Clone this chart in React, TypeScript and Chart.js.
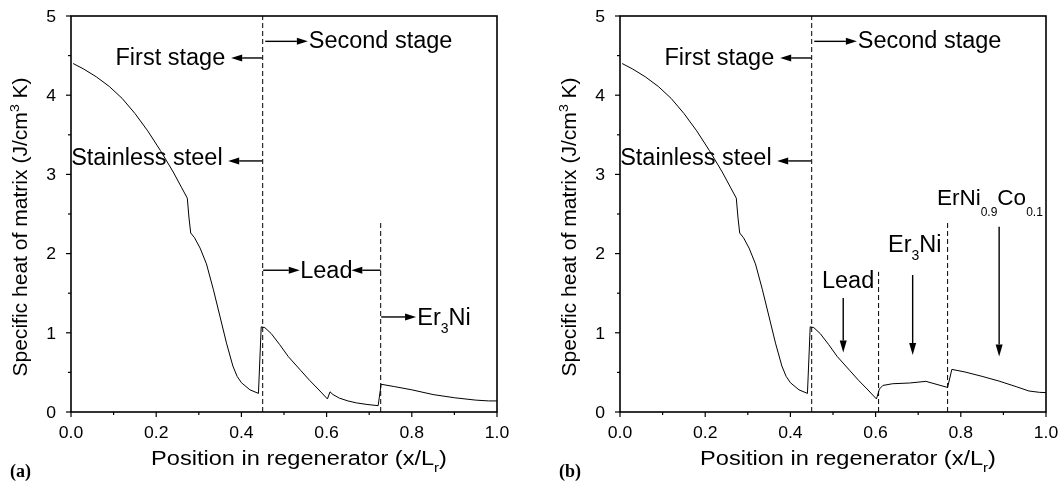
import React, { useEffect, useRef } from 'react';
import { Chart, registerables } from 'chart.js';

Chart.register(...registerables);

// ---------- data ----------
const xMajorTicks = [0, 0.2, 0.4, 0.6, 0.8, 1.0];
const xTickLabels = ['0.0', '0.2', '0.4', '0.6', '0.8', '1.0'];
const yMajorTicks = [0, 1, 2, 3, 4, 5];
const yTickLabels = ['0', '1', '2', '3', '4', '5'];

// shared part of the curve (stainless steel + start of lead)
const commonX = [0.005, 0.03, 0.06, 0.09, 0.12, 0.15, 0.18, 0.21, 0.24, 0.26, 0.273, 0.277, 0.281, 0.29, 0.303, 0.318, 0.334, 0.35, 0.365, 0.38, 0.39, 0.40, 0.42, 0.44, 0.4465, 0.455, 0.47, 0.49, 0.51, 0.54, 0.56, 0.58, 0.602];
const commonY = [4.40, 4.33, 4.23, 4.11, 3.96, 3.77, 3.55, 3.30, 3.03, 2.83, 2.70, 2.45, 2.26, 2.20, 2.07, 1.87, 1.55, 1.20, 0.87, 0.58, 0.45, 0.37, 0.28, 0.235, 1.075, 1.065, 0.99, 0.85, 0.70, 0.52, 0.40, 0.29, 0.165];

// panel (a): lead then Er3Ni
const tailAX = [0.608, 0.615, 0.63, 0.65, 0.67, 0.695, 0.721, 0.728, 0.76, 0.80, 0.85, 0.90, 0.95, 0.98, 1.0];
const tailAY = [0.255, 0.22, 0.175, 0.14, 0.115, 0.095, 0.08, 0.35, 0.32, 0.28, 0.22, 0.18, 0.15, 0.14, 0.14];

// panel (b): lead, Er3Ni, ErNi0.9Co0.1
const tailBX = [0.609, 0.617, 0.64, 0.68, 0.718, 0.769, 0.779, 0.81, 0.85, 0.89, 0.93, 0.96, 0.985, 1.0];
const tailBY = [0.29, 0.335, 0.357, 0.366, 0.387, 0.31, 0.538, 0.505, 0.45, 0.39, 0.32, 0.265, 0.248, 0.245];

// boundaries between materials (x position, top of the dashed line)
const boundaryAX = [0.45, 0.727];
const boundaryATop = [5, 2.42];
const boundaryBX = [0.45, 0.607, 0.769];
const boundaryBTop = [5, 1.77, 2.42];

// ---------- drawing helpers ----------
const SANS = '"Liberation Sans", Arial, Helvetica, sans-serif';
const SERIF = '"Liberation Serif", "Times New Roman", serif';

type Seg = { t: string; size: number; dy?: number; dx?: number; bold?: boolean; serif?: boolean };

function segFont(s: Seg) {
  return `${s.bold ? 'bold ' : ''}${s.size}px ${s.serif ? SERIF : SANS}`;
}

function drawRich(ctx: CanvasRenderingContext2D, segs: Seg[], x: number, y: number, align: 'left' | 'right' | 'center', sx = 1) {
  const widths = segs.map((s) => {
    ctx.font = segFont(s);
    return ctx.measureText(s.t).width + (s.dx || 0);
  });
  const total = widths.reduce((a, b) => a + b, 0);
  let cx = align === 'left' ? 0 : align === 'right' ? -total : -total / 2;
  ctx.save();
  ctx.translate(x, y);
  ctx.scale(sx, 1);
  ctx.textAlign = 'left';
  ctx.textBaseline = 'alphabetic';
  ctx.fillStyle = '#000';
  segs.forEach((s, i) => {
    ctx.font = segFont(s);
    ctx.fillText(s.t, cx + (s.dx || 0), s.dy || 0);
    cx += widths[i];
  });
  ctx.restore();
}

function arrow(ctx: CanvasRenderingContext2D, x1: number, y1: number, x2: number, y2: number, head = 11, half = 3.5) {
  const ang = Math.atan2(y2 - y1, x2 - x1);
  const bx = x2 - head * Math.cos(ang);
  const by = y2 - head * Math.sin(ang);
  ctx.beginPath();
  ctx.moveTo(x1, y1);
  ctx.lineTo(bx, by);
  ctx.stroke();
  ctx.beginPath();
  ctx.moveTo(x2, y2);
  ctx.lineTo(bx - half * Math.sin(ang), by + half * Math.cos(ang));
  ctx.lineTo(bx + half * Math.sin(ang), by - half * Math.cos(ang));
  ctx.closePath();
  ctx.fill();
}

const ANN = 23.5;

function makeOverlay(panel: 'a' | 'b') {
  return {
    id: 'overlay-' + panel,
    afterDatasetsDraw(chart: any) {
      const { ctx, chartArea: ca, scales } = chart;
      const xs = scales.x;
      const ys = scales.y;
      const px = (v: number) => xs.getPixelForValue(v);
      const py = (v: number) => ys.getPixelForValue(v);
      ctx.save();
      ctx.strokeStyle = '#000';
      ctx.fillStyle = '#000';

      // frame
      ctx.lineWidth = 1.6;
      ctx.strokeRect(ca.left, ca.top, ca.right - ca.left, ca.bottom - ca.top);

      // tick marks + labels
      ctx.lineWidth = 1.2;
      xs.ticks.forEach((t: any) => {
        const idx = xMajorTicks.findIndex((v) => Math.abs(v - t.value) < 1e-6);
        const X = px(t.value);
        const len = idx >= 0 ? 5 : 3;
        ctx.beginPath();
        ctx.moveTo(X, ca.bottom);
        ctx.lineTo(X, ca.bottom + len);
        ctx.stroke();
        if (idx >= 0) drawRich(ctx, [{ t: xTickLabels[idx], size: 16 }], X, ca.bottom + 25.5, 'center', 1.1);
      });
      ys.ticks.forEach((t: any) => {
        const idx = yMajorTicks.findIndex((v) => Math.abs(v - t.value) < 1e-6);
        const Y = py(t.value);
        const len = idx >= 0 ? 5 : 3;
        ctx.beginPath();
        ctx.moveTo(ca.left, Y);
        ctx.lineTo(ca.left - len, Y);
        ctx.stroke();
        if (idx >= 0) drawRich(ctx, [{ t: yTickLabels[idx], size: 16 }], ca.left - 15, Y + 5.7, 'right', 1.1);
      });

      // axis titles
      const cx = (ca.left + ca.right) / 2;
      drawRich(
        ctx,
        [
          { t: 'Position in regenerator (x/L', size: 20.5 },
          { t: 'r', size: 13, dy: 7 },
          { t: ')', size: 20.5 },
        ],
        cx + 15,
        465,
        'center',
        1.15
      );
      ctx.save();
      ctx.translate(ca.left - 44, 227);
      ctx.rotate(-Math.PI / 2);
      drawRich(
        ctx,
        [
          { t: 'Specific heat of matrix (J/cm', size: 19.5 },
          { t: '3', size: 13, dy: -8 },
          { t: ' K)', size: 19.5 },
        ],
        0,
        0,
        'center',
        1.08
      );
      ctx.restore();

      // panel label
      drawRich(ctx, [{ t: panel === 'a' ? '(a)' : '(b)', size: 18, bold: true, serif: true }], ca.left - 61, 477, 'left');

      // common annotations
      ctx.lineWidth = 1.4;
      arrow(ctx, px(0.456), py(4.68), px(0.556), py(4.68));
      drawRich(ctx, [{ t: 'Second stage', size: ANN }], px(0.558), py(4.59), 'left');
      arrow(ctx, px(0.449), py(4.47), px(0.376), py(4.47));
      drawRich(ctx, [{ t: 'First stage', size: ANN }], px(0.362), py(4.38), 'right');
      arrow(ctx, px(0.449), py(3.17), px(0.369), py(3.17));
      drawRich(ctx, [{ t: 'Stainless steel', size: ANN }], px(0.356), py(3.12), 'right');

      if (panel === 'a') {
        arrow(ctx, px(0.451), py(1.79), px(0.537), py(1.79));
        drawRich(ctx, [{ t: 'Lead', size: ANN }], px(0.538), py(1.69), 'left');
        arrow(ctx, px(0.727), py(1.79), px(0.658), py(1.79));
        arrow(ctx, px(0.728), py(1.2), px(0.81), py(1.2));
        drawRich(
          ctx,
          [
            { t: 'Er', size: ANN },
            { t: '3', size: 14, dy: 8 },
            { t: 'Ni', size: ANN },
          ],
          px(0.813),
          py(1.1),
          'left'
        );
      } else {
        drawRich(ctx, [{ t: 'Lead', size: ANN }], px(0.474), py(1.56), 'left');
        arrow(ctx, px(0.524), py(1.44), px(0.524), py(0.75), 12, 3.5);
        drawRich(
          ctx,
          [
            { t: 'Er', size: ANN },
            { t: '3', size: 14, dy: 8 },
            { t: 'Ni', size: ANN },
          ],
          px(0.629),
          py(2.02),
          'left'
        );
        arrow(ctx, px(0.687), py(1.73), px(0.687), py(0.72), 12, 3.5);
        drawRich(
          ctx,
          [
            { t: 'ErNi', size: 22.5 },
            { t: '0.9', size: 12, dy: 11 },
            { t: 'Co', size: 22.5 },
            { t: '0.1', size: 12, dy: 11 },
          ],
          px(0.744),
          py(2.61),
          'left'
        );
        arrow(ctx, px(0.89), py(2.34), px(0.89), py(0.7), 12, 3.5);
      }
      ctx.restore();
    },
  };
}

function toPoints(xs: number[], ys: number[]) {
  return xs.map((x, i) => ({ x, y: ys[i] }));
}

function buildChart(canvas: HTMLCanvasElement, panel: 'a' | 'b', padRight: number) {
  const tailX = panel === 'a' ? tailAX : tailBX;
  const tailY = panel === 'a' ? tailAY : tailBY;
  const bX = panel === 'a' ? boundaryAX : boundaryBX;
  const bTop = panel === 'a' ? boundaryATop : boundaryBTop;
  const curve = toPoints(commonX.concat(tailX), commonY.concat(tailY));
  const datasets: any[] = [
    {
      data: curve,
      borderColor: '#000',
      borderWidth: 1,
      pointRadius: 0,
      tension: 0,
      fill: false,
    },
  ];
  bX.forEach((bx, i) => {
    datasets.push({
      data: [
        { x: bx, y: 0 },
        { x: bx, y: bTop[i] },
      ],
      borderColor: '#000',
      borderWidth: 1,
      borderDash: [5, 3],
      pointRadius: 0,
      fill: false,
    });
  });
  return new Chart(canvas, {
    type: 'line',
    data: { datasets },
    options: {
      responsive: false,
      animation: false,
      devicePixelRatio: 1,
      events: [],
      layout: { autoPadding: false, padding: { left: 0, right: padRight, top: 16, bottom: 0 } },
      plugins: { legend: { display: false }, tooltip: { enabled: false }, title: { display: false } },
      scales: {
        x: {
          type: 'linear',
          min: 0,
          max: 1,
          ticks: { display: false, stepSize: 0.1 },
          grid: { display: false },
          border: { display: false },
          afterFit: (s: any) => {
            s.height = 71;
          },
        },
        y: {
          type: 'linear',
          min: 0,
          max: 5,
          ticks: { display: false, stepSize: 0.5 },
          grid: { display: false },
          border: { display: false },
          afterFit: (s: any) => {
            s.width = 71;
          },
        },
      },
    } as any,
    plugins: [makeOverlay(panel)],
  });
}

export default function App() {
  const refA = useRef<HTMLCanvasElement>(null);
  const refB = useRef<HTMLCanvasElement>(null);
  useEffect(() => {
    const a = buildChart(refA.current!, 'a', 52);
    const b = buildChart(refB.current!, 'b', 18);
    return () => {
      a.destroy();
      b.destroy();
    };
  }, []);
  return (
    <div style={{ position: 'fixed', left: 0, top: 0, width: 1064, height: 483, background: '#fff', overflow: 'hidden' }}>
      <canvas ref={refA} width={549} height={483} style={{ position: 'absolute', left: 0, top: 0, width: 549, height: 483 }} />
      <canvas ref={refB} width={515} height={483} style={{ position: 'absolute', left: 549, top: 0, width: 515, height: 483 }} />
    </div>
  );
}
